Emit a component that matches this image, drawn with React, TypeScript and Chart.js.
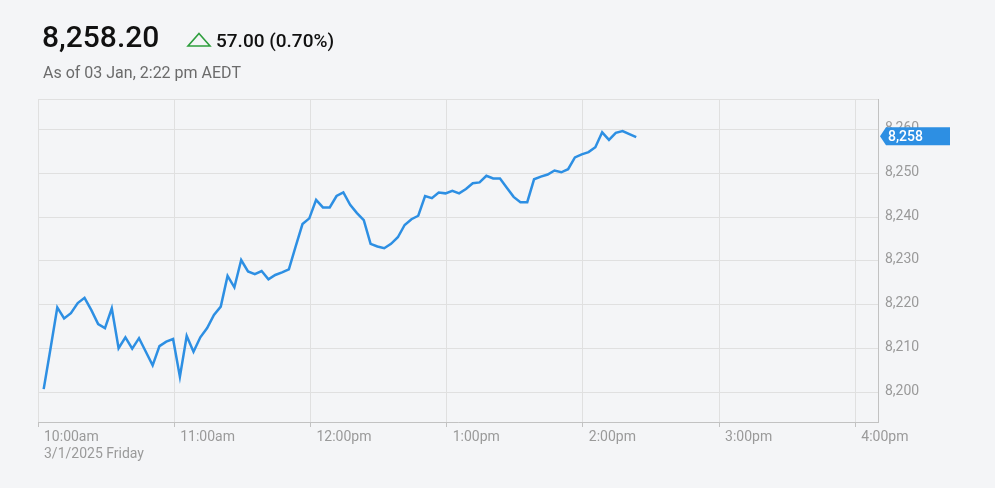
import React, { useEffect, useRef } from 'react';
import { Chart, registerables } from 'chart.js';

Chart.register(...registerables);

// minutes after 10:00am
const minutes = [
  2.5, 5.5, 8.5, 11.5, 14.5, 17.5, 20.5, 23.5, 26.5, 29.5,
  32.5, 35.5, 38.5, 41.5, 44.5, 47.5, 50.5, 53.5, 56.5, 59.5,
  62.5, 65.5, 68.5, 71.5, 74.5, 77.5, 80.5, 83.5, 86.5, 89.5,
  92.5, 95.5, 98.5, 101.5, 104.5, 107.5, 110.5, 113.5, 116.5, 119.5,
  122.5, 125.5, 128.5, 131.5, 134.5, 137.5, 140.5, 143.5, 146.5, 149.5,
  152.5, 155.5, 158.5, 161.5, 164.5, 167.5, 170.5, 173.5, 176.5, 179.5,
  182.5, 185.5, 188.5, 191.5, 194.5, 197.5, 200.5, 203.5, 206.5, 209.5,
  212.5, 215.5, 218.5, 221.5, 224.5, 227.5, 230.5, 233.5, 236.5, 239.5,
  242.5, 245.5, 248.5, 251.5, 254.5, 257.5, 260.5, 263.5,
];

const prices = [
  8200.8, 8210.0, 8219.4, 8216.9, 8218.1, 8220.4, 8221.6, 8218.8, 8215.6, 8214.7,
  8219.2, 8210.1, 8212.6, 8210.0, 8212.4, 8209.3, 8206.2, 8210.6, 8211.6, 8212.2,
  8203.6, 8212.9, 8209.3, 8212.6, 8214.7, 8217.7, 8219.6, 8226.6, 8224.0, 8230.2,
  8227.6, 8227.0, 8227.7, 8225.8, 8226.8, 8227.4, 8228.1, 8233.3, 8238.4, 8239.7,
  8243.9, 8242.2, 8242.2, 8244.8, 8245.6, 8242.8, 8240.9, 8239.3, 8233.9, 8233.3,
  8232.9, 8233.9, 8235.4, 8238.2, 8239.5, 8240.3, 8244.8, 8244.3, 8245.6, 8245.4,
  8246.0, 8245.4, 8246.4, 8247.7, 8247.9, 8249.4, 8248.8, 8248.8, 8246.7, 8244.6,
  8243.4, 8243.4, 8248.6, 8249.2, 8249.7, 8250.6, 8250.2, 8250.9, 8253.6, 8254.3,
  8254.8, 8255.9, 8259.3, 8257.6, 8259.2, 8259.6, 8258.9, 8258.2,
];

const hourTicks = [0, 60, 120, 180, 240, 300, 360];
const hourLabels = ['10:00am', '11:00am', '12:00pm', '1:00pm', '2:00pm', '3:00pm', '4:00pm'];
const dateLabel = '3/1/2025 Friday';
const priceTicks = [8200, 8210, 8220, 8230, 8240, 8250, 8260];
const xMin = 0;
const xMax = 370;
const yMin = 8193.3;
const yMax = 8266.9;

const lastPrice = '8,258.20';
const change = '57.00 (0.70%)';
const asOf = 'As of 03 Jan, 2:22 pm AEDT';
const tagLabel = '8,258';

const BLUE = '#2d8fe3';
const GRID = '#e0e0e0';
const AXIS = '#c2c2c2';
const TICKTXT = '#9a9a9a';
const BG = '#f4f5f7';

export default function App() {
  const ref = useRef<HTMLCanvasElement | null>(null);

  useEffect(() => {
    let chart: Chart | null = null;
    let cancelled = false;
    const tagPlugin = {
      id: 'lastTag',
      afterDraw(c: any) {
        const ctx = c.ctx;
        const y = c.scales.y.getPixelForValue(prices[prices.length - 1]) - 1;
        const x0 = c.chartArea.right + 2;
        ctx.save();
        ctx.fillStyle = BLUE;
        ctx.beginPath();
        ctx.moveTo(x0, y);
        ctx.lineTo(x0 + 6, y - 9);
        ctx.lineTo(x0 + 70, y - 9);
        ctx.lineTo(x0 + 70, y + 9);
        ctx.lineTo(x0 + 6, y + 9);
        ctx.closePath();
        ctx.fill();
        ctx.fillStyle = '#ffffff';
        ctx.font = '500 14px Roboto';
        ctx.textAlign = 'left';
        ctx.textBaseline = 'middle';
        ctx.fillText(tagLabel, x0 + 8, y + 1);
        ctx.restore();
      },
    };
    const make = () => {
      if (cancelled || !ref.current) return;
      chart = new Chart(ref.current, {
        type: 'line',
        data: {
          datasets: [
            {
              data: minutes.map((m, i) => ({ x: m, y: prices[i] })),
              borderColor: BLUE,
              borderWidth: 2.5,
              pointRadius: 0,
              tension: 0,
              fill: false,
            },
          ],
        },
        options: {
          animation: false,
          responsive: false,
          maintainAspectRatio: false,
          layout: { padding: { left: 38, top: 99, right: 0, bottom: 0 } },
          plugins: { legend: { display: false }, tooltip: { enabled: false } },
          scales: {
            x: {
              type: 'linear',
              min: xMin,
              max: xMax,
              afterBuildTicks: (s: any) => {
                s.ticks = hourTicks.map((v) => ({ value: v }));
              },
              afterFit: (s: any) => {
                s.height = 66;
              },
              grid: { color: GRID, tickLength: 5, tickColor: AXIS, drawTicks: true },
              border: { color: AXIS, width: 1 },
              ticks: {
                autoSkip: false,
                maxRotation: 0,
                minRotation: 0,
                align: 'start',
                labelOffset: 6,
                padding: 2,
                color: TICKTXT,
                font: { family: 'Roboto', size: 14 },
                callback: (v: any) => {
                  const i = hourTicks.indexOf(Number(v));
                  if (i === 0) return [hourLabels[0], dateLabel];
                  return i >= 0 ? hourLabels[i] : '';
                },
              },
            },
            y: {
              position: 'right',
              min: yMin,
              max: yMax,
              afterBuildTicks: (s: any) => {
                s.ticks = [yMin, ...priceTicks, yMax].map((v) => ({ value: v }));
              },
              afterFit: (s: any) => {
                s.width = 117;
              },
              grid: { color: GRID, drawTicks: false },
              border: { color: AXIS, width: 1 },
              ticks: {
                padding: 7,
                labelOffset: -1,
                color: TICKTXT,
                font: { family: 'Roboto', size: 14 },
                callback: (v: any) =>
                  priceTicks.includes(Number(v)) ? Number(v).toLocaleString('en-US') : '',
              },
            },
          },
        },
        plugins: [tagPlugin],
      } as any);
    };
    const fontsReady = (document as any).fonts
      ? Promise.all([
          (document as any).fonts.load('14px Roboto'),
          (document as any).fonts.load('500 14px Roboto'),
        ]).catch(() => null)
      : Promise.resolve(null);
    fontsReady.then(make);
    return () => {
      cancelled = true;
      if (chart) chart.destroy();
    };
  }, []);

  return (
    <div
      style={{
        position: 'absolute',
        left: 0,
        top: 0,
        width: 995,
        height: 488,
        background: BG,
        overflow: 'hidden',
        fontFamily: 'Roboto, sans-serif',
      }}
    >
      <canvas
        ref={ref}
        width={995}
        height={488}
        style={{ position: 'absolute', left: 0, top: 0, width: 995, height: 488, display: 'block' }}
      />
      <div
        style={{
          position: 'absolute',
          left: 42,
          top: 21.5,
          fontSize: 30,
          lineHeight: '30px',
          fontWeight: 500,
          color: '#111',
          whiteSpace: 'nowrap',
        }}
      >
        {lastPrice}
      </div>
      <svg
        width={26}
        height={16}
        style={{ position: 'absolute', left: 186, top: 32 }}
        viewBox="0 0 26 16"
      >
        <polygon points="13,1.5 24,14 2,14" fill="none" stroke="#2e9e3e" strokeWidth={1.6} />
      </svg>
      <div
        style={{
          position: 'absolute',
          left: 216,
          top: 30.7,
          fontSize: 19,
          lineHeight: '19px',
          fontWeight: 500,
          color: '#111',
          whiteSpace: 'nowrap',
        }}
      >
        {change}
      </div>
      <div
        style={{
          position: 'absolute',
          left: 43,
          top: 64.5,
          fontSize: 16,
          lineHeight: '16px',
          color: '#6b6b6b',
          whiteSpace: 'nowrap',
        }}
      >
        {asOf}
      </div>
    </div>
  );
}
